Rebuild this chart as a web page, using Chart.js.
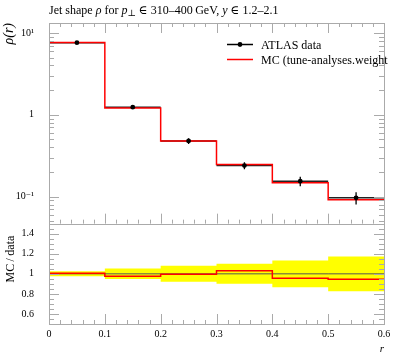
<!DOCTYPE html>
<html>
<head>
<meta charset="utf-8">
<script src="https://cdn.jsdelivr.net/npm/chart.js@4.4.0/dist/chart.umd.min.js"></script>
<style>
  html, body { margin: 0; padding: 0; background: #fff; }
  #wrap { width: 397px; height: 358px; position: relative; }
</style>
</head>
<body>
<div id="wrap"><canvas id="jetshape" width="397" height="358"></canvas></div>
<script>
// bins in r and the values
const binEdges = [0, 0.1, 0.2, 0.3, 0.4, 0.5, 0.6];
const rhoData = [7.6, 1.24, 0.48, 0.24, 0.155, 0.097];
const rhoRelErr = [0.025, 0.052, 0.08, 0.1, 0.133, 0.173];
const rhoMC = [7.64, 1.21, 0.478, 0.247, 0.148, 0.092];
const ratioMC = [1.005, 0.975, 0.995, 1.03, 0.955, 0.945];

const xTickLabels = ["0", "0.1", "0.2", "0.3", "0.4", "0.5", "0.6"];
const logTickLabels = [[10, "10\u00B9"], [1, "1"], [0.1, "10\u207B\u00B9"]];
const ratioTickLabels = ["0.6", "0.8", "1", "1.2", "1.4"];

const legendLabels = ["ATLAS data", "MC (tune-analyses.weight"];

const FONT = "'Liberation Serif', 'DejaVu Serif', serif";
const FRAME = "#aaa";

// helpers to turn the bin arrays into points
const stepPoints = (vals) => {
    const pts = vals.map((v, i) => ({ x: binEdges[i], y: v }));
    pts.push({ x: binEdges[binEdges.length - 1], y: vals[vals.length - 1] });
    return pts;
};
const binSegments = (vals) => {
    const pts = [];
    vals.forEach((v, i) => {
        pts.push({ x: binEdges[i], y: v });
        pts.push({ x: binEdges[i + 1], y: v });
        pts.push({ x: binEdges[i + 1], y: null });
    });
    return pts;
};
const binCentres = () => rhoData.map((v, i) => (binEdges[i] + binEdges[i + 1]) / 2);

const errorBars = () => {
    const pts = [];
    binCentres().forEach((c, i) => {
        pts.push({ x: c, y: rhoData[i] * (1 - rhoRelErr[i]) });
        pts.push({ x: c, y: rhoData[i] * (1 + rhoRelErr[i]) });
        pts.push({ x: c, y: null });
    });
    return pts;
};

const sameValue = (a, b) => Math.abs(a - b) < 1e-6 * Math.max(1, Math.abs(b));

// frame, inward ticks, title and legend
const decorations = {
    id: "decorations",
    afterDatasetsDraw(chart) {
        const ctx = chart.ctx;
        const x = chart.scales.x;
        const y = chart.scales.y;
        const yr = chart.scales.yr;
        ctx.save();
        ctx.strokeStyle = FRAME;
        ctx.lineWidth = 1;

        const hLine = (px, y0, len) => {
            ctx.beginPath();
            ctx.moveTo(Math.round(px) + 0.5, y0);
            ctx.lineTo(Math.round(px) + 0.5, y0 + len);
            ctx.stroke();
        };
        const vLine = (py, x0, len) => {
            ctx.beginPath();
            ctx.moveTo(x0, Math.round(py) + 0.5);
            ctx.lineTo(x0 + len, Math.round(py) + 0.5);
            ctx.stroke();
        };

        // x ticks: main top & bottom, ratio bottom
        for (let i = 0; i <= 30; i++) {
            const v = i * 0.02;
            const px = x.getPixelForValue(v);
            const len = i % 5 === 0 ? 10 : 4;
            hLine(px, y.top, len);
            hLine(px, y.bottom, -len);
            hLine(px, yr.bottom, -len);
        }

        // log ticks on main panel
        for (let d = -2; d <= 1; d++) {
            for (let k = 1; k <= 9; k++) {
                const v = k * Math.pow(10, d);
                if (v < y.min || v > y.max) continue;
                const py = y.getPixelForValue(v);
                const len = k === 1 ? 10 : 5;
                vLine(py, x.left, len);
                vLine(py, x.right, -len);
            }
        }

        // ratio ticks
        for (let i = 10; i <= 30; i++) {
            const v = i * 0.05;
            const py = yr.getPixelForValue(v);
            const len = i % 4 === 0 ? 10 : 5;
            vLine(py, x.left, len);
            vLine(py, x.right, -len);
        }

        // frames
        ctx.strokeRect(Math.round(x.left) + 0.5, Math.round(y.top) + 0.5,
            Math.round(x.right - x.left), Math.round(y.bottom - y.top));
        ctx.strokeRect(Math.round(x.left) + 0.5, Math.round(yr.top) + 0.5,
            Math.round(x.right - x.left), Math.round(yr.bottom - yr.top));

        // title with mixed italics
        const parts = [
            ["Jet shape ", "normal", 12, 0],
            ["\u03C1", "italic", 12, 0],
            [" for ", "normal", 12, 0],
            ["p", "italic", 12, 0],
            ["\u22A5", "normal", 9, 2],
            [" \u2208 310\u2013400\u2009GeV, ", "normal", 12, 0],
            ["y", "italic", 12, 0],
            [" \u2208 1.2\u20132.1", "normal", 12, 0],
        ];
        ctx.fillStyle = "#000";
        ctx.textBaseline = "alphabetic";
        ctx.textAlign = "left";
        let tx = x.left;
        parts.forEach(([text, style, size, dy]) => {
            ctx.font = `${style} ${size}px ${FONT}`;
            ctx.fillText(text, tx, 14 + dy);
            tx += ctx.measureText(text).width;
        });

        // legend
        ctx.lineWidth = 1.5;
        ctx.strokeStyle = "#000";
        ctx.beginPath();
        ctx.moveTo(227, 44.5);
        ctx.lineTo(253, 44.5);
        ctx.stroke();
        ctx.beginPath();
        ctx.arc(240, 44.5, 2.4, 0, Math.PI * 2);
        ctx.fill();
        ctx.strokeStyle = "#ff0000";
        ctx.beginPath();
        ctx.moveTo(227, 59.5);
        ctx.lineTo(253, 59.5);
        ctx.stroke();
        ctx.font = `12px ${FONT}`;
        ctx.fillText(legendLabels[0], 261, 48.5);
        ctx.fillText(legendLabels[1], 261, 63.5);
        ctx.restore();
    },
};

const ctx = document.getElementById("jetshape").getContext("2d");

const config = {
    type: "line",
    data: {
        datasets: [
            {
                label: "data points",
                data: binCentres().map((c, i) => ({ x: c, y: rhoData[i] })),
                yAxisID: "y",
                showLine: false,
                pointRadius: 2.4,
                pointBackgroundColor: "#000",
                pointBorderWidth: 0,
                order: 0,
            },
            {
                label: "data errors",
                data: errorBars(),
                yAxisID: "y",
                borderColor: "#000",
                borderWidth: 1.3,
                pointRadius: 0,
                spanGaps: false,
                order: 1,
            },
            {
                label: "MC",
                data: stepPoints(rhoMC),
                yAxisID: "y",
                stepped: "before",
                borderColor: "#ff0000",
                borderWidth: 1.5,
                pointRadius: 0,
                order: 2,
            },
            {
                label: "ATLAS data",
                data: binSegments(rhoData),
                yAxisID: "y",
                borderColor: "#222",
                borderWidth: 1.5,
                pointRadius: 0,
                spanGaps: false,
                order: 3,
            },
            {
                label: "MC ratio",
                data: stepPoints(ratioMC),
                yAxisID: "yr",
                stepped: "before",
                borderColor: "#ff0000",
                borderWidth: 1.5,
                pointRadius: 0,
                order: 4,
            },
            {
                label: "data ratio",
                data: stepPoints(rhoData.map(() => 1)),
                yAxisID: "yr",
                borderColor: "#555",
                borderWidth: 1,
                pointRadius: 0,
                order: 5,
            },
            {
                label: "band up",
                data: stepPoints(rhoRelErr.map((e) => 1 + e)),
                yAxisID: "yr",
                stepped: "before",
                borderWidth: 0,
                borderColor: "rgba(0,0,0,0)",
                backgroundColor: "#ffff00",
                fill: "+1",
                pointRadius: 0,
                order: 6,
            },
            {
                label: "band down",
                data: stepPoints(rhoRelErr.map((e) => 1 - e)),
                yAxisID: "yr",
                stepped: "before",
                borderWidth: 0,
                borderColor: "rgba(0,0,0,0)",
                pointRadius: 0,
                order: 7,
            },
        ],
    },
    options: {
        responsive: false,
        animation: false,
        devicePixelRatio: 1,
        layout: { padding: { left: 0, right: 13, top: 23, bottom: 0 } },
        plugins: {
            legend: { display: false },
            tooltip: { enabled: false },
        },
        scales: {
            x: {
                type: "linear",
                position: "bottom",
                min: 0,
                max: 0.6,
                afterFit: (s) => { s.height = 34; },
                grid: { display: false },
                border: { display: false },
                ticks: {
                    stepSize: 0.1,
                    autoSkip: false,
                    maxRotation: 0,
                    padding: -4,
                    color: "#000",
                    font: { family: FONT, size: 10 },
                    callback: (v) => xTickLabels[Math.round(v * 10)],
                },
                title: {
                    display: true,
                    text: "r",
                    align: "end",
                    color: "#000",
                    font: { family: FONT, size: 11, style: "italic" },
                    padding: { top: 0, bottom: 2 },
                },
            },
            // ratio panel declared first so the stack puts it under the main panel
            yr: {
                type: "linear",
                position: "left",
                stack: "panels",
                stackWeight: 1,
                min: 0.5,
                max: 1.5,
                afterFit: (s) => { s.width = 49; },
                grid: { display: false },
                border: { display: false },
                ticks: {
                    stepSize: 0.1,
                    autoSkip: false,
                    padding: 7,
                    color: "#000",
                    font: { family: FONT, size: 10 },
                    callback: (v) => {
                        const i = Math.round((v - 0.6) / 0.2);
                        return sameValue(v, 0.6 + i * 0.2) ? ratioTickLabels[i] : null;
                    },
                },
                title: {
                    display: true,
                    text: "MC\u2009/\u2009data\u2003",
                    align: "end",
                    color: "#000",
                    font: { family: FONT, size: 12 },
                    padding: { top: 4, bottom: 2 },
                },
            },
            y: {
                type: "logarithmic",
                position: "left",
                stack: "panels",
                stackWeight: 2,
                min: 0.0469,
                max: 13.2,
                afterFit: (s) => { s.width = 49; },
                grid: { display: false },
                border: { display: false },
                ticks: {
                    autoSkip: false,
                    padding: 7,
                    color: "#000",
                    font: { family: FONT, size: 10 },
                    callback: (v) => {
                        const hit = logTickLabels.find(([val]) => sameValue(v, val));
                        return hit ? hit[1] : null;
                    },
                },
                title: {
                    display: true,
                    text: "\u03C1(r)",
                    align: "end",
                    color: "#000",
                    font: { family: FONT, size: 14, style: "italic" },
                    padding: { top: 1, bottom: 2 },
                },
            },
        },
    },
    plugins: [decorations],
};

const chart = new Chart(ctx, config);
</script>
</body>
</html>
